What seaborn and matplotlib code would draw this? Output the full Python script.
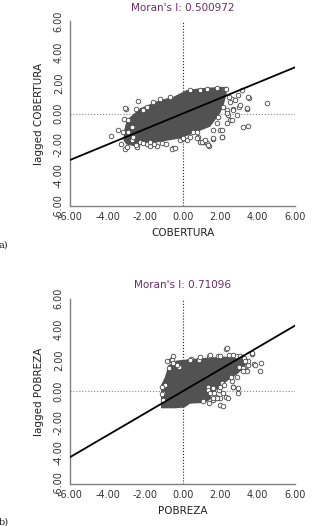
import matplotlib
matplotlib.use('Agg')
import matplotlib.pyplot as plt
import seaborn as sns

ticks = [-6, -4, -2, 0, 2, 4, 6]

# panel a) COBERTURA
cob_moran = 0.500972
cob_core_x = [-3.16, -3.1, -2.98, -2.27, -1.2, -0.49, 0.22, 0.93, 1.6, 2.18, 2.36, 2.2, 2.0, 1.47, 0.58, -0.13, -1.2, -2.0, -2.62, -3.0]
cob_core_y = [-1.72, -1.0, -0.42, 0.34, 0.88, 1.09, 1.53, 1.64, 1.7, 1.74, 1.31, 0.6, 0.01, -0.85, -1.28, -1.61, -1.83, -2.0, -2.1, -2.0]
cob_out_x = [-3.81, -3.42, -3.03, -3.12, -3.07, -3.30, -2.39, -2.48, -1.56, -1.20, -0.67, -0.49, -0.58, -1.38,
             -1.91, 0.84, 1.11, 1.43, 1.64, 2.09, 2.00, 2.53, 2.71, 3.03, 3.42, 3.56, 3.24, 3.51, 4.49, 2.98,
             3.16, 2.62, 2.36, 2.44, 2.80, 2.27, 1.82, 1.29, 0.93, 0.40, 0.58, 0.22, -0.04, -2.62, -2.71, -2.98,
             -2.44, -1.73, -2.09, -1.91,
             -3.07, -2.89, -2.71, -2.62, -2.27, -2.09, -1.73, -1.11, -0.40, -0.13, 0.76, 0.93, 1.29,
             3.51, 3.42, 3.07, 2.71, 2.89, 2.62, 2.36, 2.09, 2.09, 1.64, 1.38, 1.02, 0.76, 0.40, 0.04,
             2.36, 2.53, 2.18, 1.91, 1.82, 1.64, -3.2, -2.9, -2.5, -1.5, -0.9, 2.3, 2.45, 1.2]
cob_out_y = [-1.47, -1.08, 0.32, -0.32, -2.27, -1.95, 0.82, 0.32, 0.76, 0.97, 1.08, -2.23, -2.27, -2.10,
             -1.99, -1.51, -1.84, -2.10, -1.62, -1.51, -1.08, -0.43, 0.32, 0.43, 0.32, 1.04, -0.86, -0.82, 0.69, 1.19,
             1.56, 0.97, 0.22, -0.11, 0.86, 1.62, 1.69, 1.62, 1.56, 1.51, -1.19, -1.73, -1.62, -0.86, -1.73, -2.16,
             -2.16, -2.10, 0.22, 0.43,
             0.34, -0.42, -0.85, -1.50, -1.83, -1.93, -1.83, -1.93, -2.26, -1.72, -1.18, -1.83, -1.93,
             1.09, 0.34, 0.55, 0.23, -0.10, -0.42, -0.64, -1.07, -1.50, -1.61, -2.04, -1.83, -1.61, -1.50, -1.61,
             0.01, 0.77, 0.44, -0.20, -0.64, -1.07, -1.2, -1.2, -2.05, -2.0, -2.0, 1.6, 1.1, -1.7]

# panel b) POBREZA
pob_moran = 0.71096
pob_core_x = [-1.15, -1.15, -0.95, -0.75, -0.3, 0.5, 1.5, 2.3, 3.0, 3.4, 3.35, 2.9, 2.3, 1.8, 1.5, 1.2, 0.4, 0.1, -0.4]
pob_core_y = [-1.1, 0.4, 0.9, 1.7, 2.0, 2.1, 2.2, 2.25, 2.15, 2.0, 1.6, 1.1, 0.6, 0.1, -0.5, -0.75, -0.8, -1.05, -1.1]
pob_out_x = [2.31, 2.45, 2.84, 3.29, 3.68, 3.82, 4.18, 4.14, 3.38, 2.93, 2.67, 1.96, 2.10, 1.78, 2.31, 1.60,
             1.42, 2.00, -0.62, -0.53, -0.85, -0.71, -0.18, 0.44, 1.42, 1.87, 0.89, 1.33, 1.60, 3.02, 3.47, 3.47,
             -0.58, -0.49, -0.31, 0.40, 0.93, 1.47, 2.00, -0.93, -1.02, -1.02, 1.38, 1.56, 1.82, 2.00, 2.18,
             2.36, 3.69, 3.87, 3.42, 2.98, 2.71, 2.00, 2.18, 2.44, 1.47, 1.64, 2.71, 3.07, 3.33, 3.24, 2.89, 2.62,
             -1.1, -1.1, 2.6, 2.2, 1.7, 3.2, 1.1]
pob_out_y = [2.74, 2.37, 2.26, 2.15, 2.43, 1.78, 1.83, 1.29, 1.39, -0.12, 0.31, 0.10, 0.53, -0.34, -0.38, -0.55,
             -0.77, -0.44, 2.04, 2.26, 1.94, 1.50, 1.57, 2.11, 2.26, 2.26, 2.04, 0.31, 0.20, 1.61, 1.72, 1.98,
             2.04, 1.83, 1.72, 2.04, 2.21, 2.37, 2.26, 0.42, -0.12, -0.55, 0.10, -0.23, -0.44, -0.87, -0.98,
             2.80, 2.48, 1.72, 1.29, 0.21, 0.31, 0.31, -0.12, -0.44, -0.12, -0.44, 2.37, 2.26, 1.94, 1.50, 0.96, 0.64,
             0.3, -0.2, 0.9, 0.4, -0.1, 1.3, -0.6]

sns.set_style('white')
plt.rcParams['font.family'] = ['DejaVu Sans']

fig = plt.figure(figsize=(3.32, 5.26), dpi=100)
ax_a = fig.add_axes([0.211, 0.608, 0.678, 0.352])
ax_b = fig.add_axes([0.211, 0.080, 0.678, 0.352])

panels = [
    (ax_a, cob_core_x, cob_core_y, cob_out_x, cob_out_y, cob_moran, 'COBERTURA', 'a)', 0.530, 7),
    (ax_b, pob_core_x, pob_core_y, pob_out_x, pob_out_y, pob_moran, 'POBREZA', 'b)', 0.003, 8),
]

for ax, cx, cy, ox, oy, moran, name, tag, tag_y, tpad in panels:
    ax.fill(cx, cy, color='#525252', lw=0, zorder=2)
    sns.scatterplot(x=ox, y=oy, ax=ax, marker='o', s=11, facecolor='white',
                    edgecolor='#444444', linewidth=0.6, zorder=3)
    ax.axvline(0, color='#222222', ls=':', lw=0.8, zorder=1)
    ax.axhline(0, color='#888888', ls=':', lw=0.8, zorder=1)
    sns.lineplot(x=[-6, 6], y=[-6 * moran, 6 * moran], ax=ax, color='black', lw=1.3, zorder=4)
    ax.set_xlim(-6, 6)
    ax.set_ylim(-6, 6)
    ax.set_xticks(ticks)
    ax.set_yticks(ticks)
    ax.set_xticklabels([f'{t:.2f}' for t in ticks], fontsize=7, color='#333333')
    ax.set_yticklabels([f'{t:.2f}' for t in ticks], fontsize=7, color='#333333', rotation=90, va='center')
    ax.tick_params(direction='out', length=3, width=0.8, color='#808080', pad=1.5)
    for side in ['top', 'right']:
        ax.spines[side].set_visible(False)
    for side in ['left', 'bottom']:
        ax.spines[side].set_color('#808080')
        ax.spines[side].set_linewidth(1.0)
    ax.set_xlabel(name, fontsize=7.5, color='#222222', labelpad=4)
    ax.set_ylabel('lagged ' + name, fontsize=7.5, color='#222222', labelpad=7)
    ax.set_title(f"Moran's I: {moran:g}", fontsize=7.5, color='#6a2c6a', pad=tpad)
    fig.text(-0.004, tag_y, tag, fontsize=7, color='#222222', family='serif')

fig.savefig('out.png', dpi=100)
